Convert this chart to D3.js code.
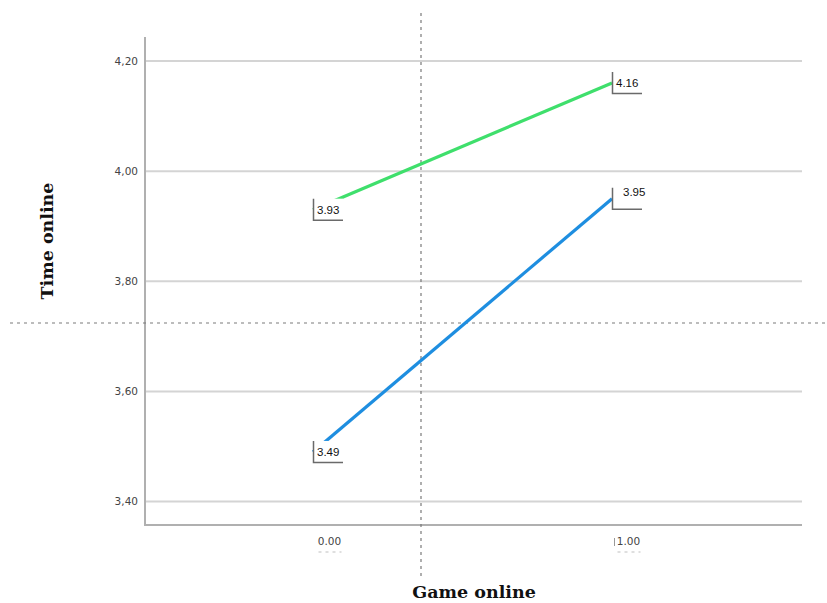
<!DOCTYPE html>
<html>
<head>
<meta charset="utf-8">
<script src="https://cdn.jsdelivr.net/npm/d3@7"></script>
<style>
  html, body { margin: 0; padding: 0; background: #fff; }
  svg { display: block; }
</style>
</head>
<body>
<svg id="chart" width="827" height="603"></svg>
<script>
// Group means of "Time online" at each level of "Game online"
const xCategories = [0, 1];
const xTickLabels = ["0.00", "1.00"];
const seriesNames = ["high", "low"];
const seriesHigh = [3.93, 4.16];
const seriesLow = [3.49, 3.95];
const yTicks = [3.40, 3.60, 3.80, 4.00, 4.20];
const xTitle = "Game online";
const yTitle = "Time online";

const svg = d3.select("#chart");

const plot = { left: 145, right: 802, top: 37, bottom: 525 };

const x = d3.scaleLinear().domain([0, 1]).range([313, 612]);
const y = d3.scaleLinear().domain([3.40, 4.20]).range([501.5, 61]);

const commaFmt = d3.formatLocale({ decimal: ",", thousands: ".", grouping: [3], currency: ["", ""] }).format(".2f");

// horizontal gridlines
svg.append("g")
  .selectAll("line")
  .data(yTicks)
  .join("line")
  .attr("x1", plot.left)
  .attr("x2", plot.right)
  .attr("y1", d => y(d))
  .attr("y2", d => y(d))
  .attr("stroke", "#d4d4d4")
  .attr("stroke-width", 2);

// y axis with tick labels
const yAxis = d3.axisLeft(y).tickValues(yTicks).tickSize(0).tickPadding(7).tickFormat(commaFmt);
const gy = svg.append("g").attr("transform", `translate(${plot.left},0)`).call(yAxis);
gy.select(".domain").remove();
gy.selectAll("text")
  .attr("font-family", "'DejaVu Sans', sans-serif")
  .attr("font-size", 10.5)
  .attr("fill", "#444");

// axis frame lines (left and bottom)
svg.append("line")
  .attr("x1", plot.left).attr("x2", plot.left)
  .attr("y1", plot.top).attr("y2", plot.bottom)
  .attr("stroke", "#b0b0b0").attr("stroke-width", 2);
svg.append("line")
  .attr("x1", plot.left - 1).attr("x2", plot.right)
  .attr("y1", plot.bottom).attr("y2", plot.bottom)
  .attr("stroke", "#b0b0b0").attr("stroke-width", 2);

// x axis tick labels
const xAxis = d3.axisBottom(x).tickValues(xCategories).tickSize(0).tickPadding(13)
  .tickFormat((d, i) => xTickLabels[i]);
const gx = svg.append("g").attr("transform", `translate(0,${plot.bottom})`).call(xAxis);
gx.select(".domain").remove();
gx.selectAll("text")
  .attr("font-family", "'DejaVu Sans', sans-serif")
  .attr("font-size", 10.5)
  .attr("fill", "#444")
  .attr("dx", 16);
// faint dotted underline below each category label
gx.selectAll(".tick").append("line")
  .attr("x1", 5).attr("x2", 28)
  .attr("y1", 27).attr("y2", 27)
  .attr("stroke", "#c0c0c0").attr("stroke-width", 1.2)
  .attr("stroke-dasharray", "3,4");
gx.selectAll(".tick").filter(d => d === 1).append("line")
  .attr("x1", 2).attr("x2", 2)
  .attr("y1", 13).attr("y2", 21)
  .attr("stroke", "#999").attr("stroke-width", 1);

// dashed crosshair reference lines
svg.append("line")
  .attr("x1", 421).attr("x2", 421).attr("y1", 13).attr("y2", 580)
  .attr("stroke", "#7a7a7a").attr("stroke-width", 1.2).attr("stroke-dasharray", "3,4");
svg.append("line")
  .attr("x1", 10).attr("x2", 827).attr("y1", 323).attr("y2", 323)
  .attr("stroke", "#7a7a7a").attr("stroke-width", 1.2).attr("stroke-dasharray", "3,4");

// series lines
const series = [
  { name: seriesNames[0], values: seriesHigh, color: "#3fdf6c" },
  { name: seriesNames[1], values: seriesLow, color: "#1e8ee0" }
];
const line = d3.line().x((d, i) => x(xCategories[i])).y(d => y(d));
svg.append("g")
  .selectAll("path")
  .data(series)
  .join("path")
  .attr("d", d => line(d.values))
  .attr("fill", "none")
  .attr("stroke", d => d.color)
  .attr("stroke-width", 3.2);

// value callout labels
const labels = [];
series.forEach((s, si) => s.values.forEach((v, i) => labels.push({ v, i, si })));
const lg = svg.append("g")
  .selectAll("g")
  .data(labels)
  .join("g")
  .attr("transform", d => `translate(${x(xCategories[d.i])},${y(d.v)})`);

lg.append("rect")
  .attr("x", 0).attr("y", -11).attr("width", 30).attr("height", 21)
  .attr("fill", d => (d.si === 1 && d.i === 1) ? "none" : "#fff");
lg.append("path")
  .attr("d", "M0.5,-11 V10.5 H30")
  .attr("fill", "none")
  .attr("stroke", "#6a6a6a")
  .attr("stroke-width", 1.5);
lg.append("text")
  .attr("x", d => (d.si === 1 && d.i === 1) ? 11 : 4)
  .attr("y", d => (d.si === 1 && d.i === 1) ? -3 : 4)
  .attr("font-family", "'Liberation Sans', Arial, sans-serif")
  .attr("font-size", 11.5)
  .attr("fill", "#111")
  .text(d => d.v.toFixed(2));

// axis titles
svg.append("text")
  .attr("x", 474).attr("y", 598)
  .attr("text-anchor", "middle")
  .attr("font-family", "'DejaVu Serif', 'Liberation Serif', serif")
  .attr("font-weight", "bold")
  .attr("font-size", 17.5)
  .attr("fill", "#111")
  .text(xTitle);
svg.append("text")
  .attr("transform", "translate(53,241) rotate(-90)")
  .attr("text-anchor", "middle")
  .attr("font-family", "'DejaVu Serif', 'Liberation Serif', serif")
  .attr("font-weight", "bold")
  .attr("font-size", 17.5)
  .attr("fill", "#111")
  .text(yTitle);
</script>
</body>
</html>
